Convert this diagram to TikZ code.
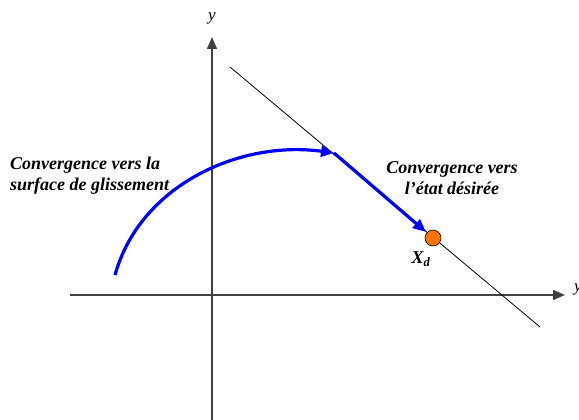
\documentclass[tikz,border=0pt]{standalone}
\usepackage{fontspec}
\setmainfont{Liberation Serif}
\usetikzlibrary{arrows.meta}
\begin{document}
\begin{tikzpicture}[x=1pt,y=-1pt,>={Triangle[length=12pt,width=10pt]},font=\fontsize{18}{21}\selectfont\bfseries\itshape]
      \tikzset{axis/.style={draw=black!75, line width=1.5pt},
        traj/.style={draw=blue, line width=3.2pt, >={Triangle[length=13pt,width=11pt]}},
        axlbl/.style={font=\fontsize{17}{20}\selectfont\itshape, inner sep=0pt},
        lbl/.style={align=left, inner sep=0pt}}
      \useasboundingbox (0,0) rectangle (579,420);
      % axes
      \coordinate (xs) at (70,295);
      \coordinate (xe) at (565,295);
      \coordinate (ys) at (212,420);
      \coordinate (ye) at (212,37);
      \draw[axis,->] (xs) -- (xe);
      \draw[axis,->] (ys) -- (ye);
      \node[axlbl] (ylab) at (212,18) {y};
      \node[axlbl, anchor=west] (xlab) at (574,289) {y};
      % surface de glissement
      \coordinate (s1) at (230,67);
      \coordinate (s2) at (540,327);
      \draw[line width=0.8pt] (s1) -- (s2);
      % trajectoire
      \coordinate (c0) at (115,275);
      \coordinate (c1) at (334,153);
      \node[circle, draw=black, fill=orange!90!red, minimum size=16pt, inner sep=0pt, line width=0.6pt] (xd) at (433,238) {};
      \draw[traj,->] (c0) .. controls (140,185) and (240,140) .. (c1);
      \draw[traj,->, shorten >=1pt] (c1) -- (xd);
      \node (xdlab) at (421,259) {X\textsubscript{d}};
      % textes
      \node[lbl, anchor=north west] (t1) at (10,157) {Convergence vers la\\surface de glissement};
      \node[align=center, inner sep=0pt] (t2) at (452,178) {Convergence vers\\l'état désirée};
\end{tikzpicture}
\end{document}
